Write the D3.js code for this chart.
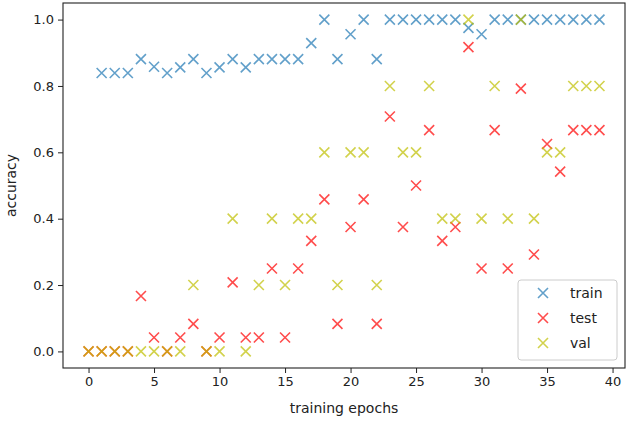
<!DOCTYPE html>
<html><head><meta charset="utf-8">
<script src="https://cdn.jsdelivr.net/npm/d3@7"></script>
<style>body{margin:0;background:#fff;} svg{display:block;font-family:"DejaVu Sans",sans-serif;}</style>
</head><body><svg id="c" width="629" height="424"></svg>
<script>
const trainEpochs = d3.range(1, 40);
const trainValues = [0.839,0.839,0.839,0.881,0.858,0.839,0.856,0.881,0.839,0.856,0.881,0.856,0.881,0.881,0.881,0.881,0.929,1.0,0.881,0.956,1.0,0.881,1.0,1.0,1.0,1.0,1.0,1.0,0.975,0.956,1.0,1.0,1.0,1.0,1.0,1.0,1.0,1.0,1.0];
const testEpochs = d3.range(0, 40);
const testValues = [0,0,0,0,0.167,0.042,0,0.042,0.083,0,0.042,0.208,0.042,0.042,0.25,0.042,0.25,0.333,0.458,0.083,0.375,0.458,0.083,0.708,0.375,0.5,0.667,0.333,0.375,0.917,0.25,0.667,0.25,0.792,0.292,0.625,0.542,0.667,0.667,0.667];
const valEpochs = d3.range(0, 40);
const valValues = [0,0,0,0,0,0,0,0,0.2,0,0,0.4,0,0.2,0.4,0.2,0.4,0.4,0.6,0.2,0.6,0.6,0.2,0.8,0.6,0.6,0.8,0.4,0.4,1.0,0.4,0.8,0.4,1.0,0.4,0.6,0.6,0.8,0.8,0.8];
const xTicks = [0,5,10,15,20,25,30,35,40];
const yTicks = [0.0,0.2,0.4,0.6,0.8,1.0];
const seriesNames = ["train","test","val"];
const seriesColors = ["#1f77b4","#ff0000","#bfbf00"];

const svg = d3.select("#c");
const L = 63, R = 625, T = 3, B = 368;
const x = d3.scaleLinear().domain([-1.95, 40.95]).range([L, R]);
const y = d3.scaleLinear().domain([-0.05, 1.05]).range([B, T]);

const xAxis = svg.append("g").attr("transform", `translate(0,${B})`)
  .call(d3.axisBottom(x).tickValues(xTicks).tickFormat(d3.format("d")).tickSize(5).tickPadding(4));
const yAxis = svg.append("g").attr("transform", `translate(${L},0)`)
  .call(d3.axisLeft(y).tickValues(yTicks).tickFormat(d3.format(".1f")).tickSize(5).tickPadding(4));
[xAxis, yAxis].forEach(a => {
  a.select(".domain").remove();
  a.selectAll("line").attr("stroke", "#222").attr("stroke-width", 1);
  a.selectAll("text").attr("font-size", 13).attr("fill", "#222").attr("font-family", "DejaVu Sans");
});
svg.append("rect").attr("x", L).attr("y", T).attr("width", R - L).attr("height", B - T)
  .attr("fill", "none").attr("stroke", "#222").attr("stroke-width", 1.1);

svg.append("text").attr("x", (L + R) / 2).attr("y", 413).attr("text-anchor", "middle")
  .attr("font-size", 14).attr("fill", "#222").text("training epochs");
svg.append("text").attr("transform", `translate(16,${(T + B) / 2}) rotate(-90)`).attr("text-anchor", "middle")
  .attr("font-size", 14).attr("fill", "#222").text("accuracy");

const s = 5;
function cross(g, cx, cy, color) {
  g.append("path").attr("d", `M${cx - s},${cy - s}L${cx + s},${cy + s}M${cx - s},${cy + s}L${cx + s},${cy - s}`)
    .attr("stroke", color).attr("stroke-width", 1.6).attr("stroke-opacity", 0.7).attr("fill", "none");
}
const data = [[trainEpochs, trainValues], [testEpochs, testValues], [valEpochs, valValues]];
const gm = svg.append("g");
data.forEach(([ex, vals], i) => {
  vals.forEach((v, j) => cross(gm, x(ex[j]), y(v), seriesColors[i]));
});

const lg = svg.append("g");
lg.append("rect").attr("x", 518).attr("y", 280).attr("width", 99).attr("height", 80).attr("rx", 3)
  .attr("fill", "#fff").attr("fill-opacity", 0.8).attr("stroke", "#ccc");
seriesNames.forEach((n, i) => {
  const cy = 293 + i * 25;
  cross(lg, 543, cy, seriesColors[i]);
  lg.append("text").attr("x", 570).attr("y", cy + 5).attr("font-size", 14).attr("fill", "#222").text(n);
});
</script></body></html>
